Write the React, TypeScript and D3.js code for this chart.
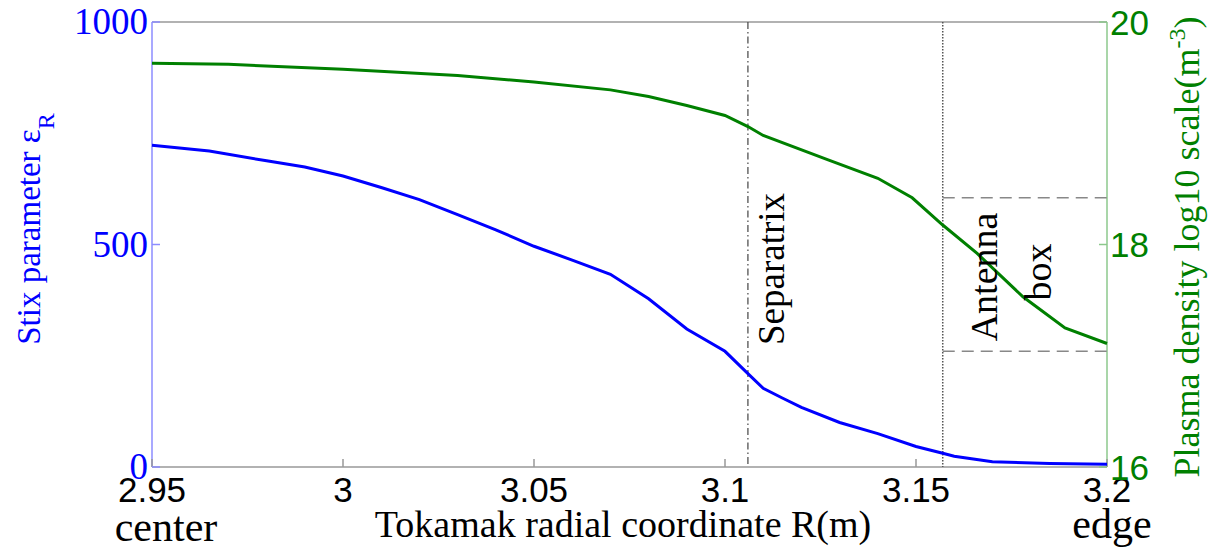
import React from "react";
import * as d3 from "d3";

// ---- data ----
const rBlue = [2.95, 2.965, 2.98, 2.99, 3.0, 3.01, 3.02, 3.03, 3.04, 3.05, 3.06, 3.07, 3.08, 3.09, 3.1, 3.106, 3.11, 3.115, 3.12, 3.13, 3.14, 3.15, 3.157, 3.16, 3.17, 3.185, 3.2];
const stixR = [723, 710, 688, 674, 654, 628, 601, 567, 533, 496, 465, 433, 378, 310, 260, 210, 177, 155, 134, 100, 75, 46, 31, 24, 12, 8, 6];

const rGreen = [2.95, 2.97, 3.0, 3.03, 3.05, 3.07, 3.08, 3.09, 3.1, 3.106, 3.11, 3.127, 3.14, 3.149, 3.157, 3.166, 3.178, 3.189, 3.2];
const logDensity = [19.63, 19.62, 19.575, 19.52, 19.46, 19.39, 19.33, 19.25, 19.16, 19.06, 18.98, 18.76, 18.595, 18.42, 18.175, 17.92, 17.53, 17.25, 17.11];

const xTicks = [2.95, 3.0, 3.05, 3.1, 3.15, 3.2];
const xTickLabels = ["2.95", "3", "3.05", "3.1", "3.15", "3.2"];
const leftTicks = [0, 500, 1000];
const rightTicks = [16, 18, 20];

const separatrixR = 3.106;
const antennaR = 3.157;
const antennaBox = [17.04, 18.42];

const SERIF = "'Liberation Serif', 'Times New Roman', serif";
const SANS = "'Liberation Sans', Arial, sans-serif";

export default function App() {
  const W = 1214, H = 550;
  const m = { left: 152, right: 1107, top: 22, bottom: 467 };
  const x = d3.scaleLinear().domain([2.95, 3.2]).range([m.left, m.right]);
  const yL = d3.scaleLinear().domain([0, 1000]).range([m.bottom, m.top]);
  const yR = d3.scaleLinear().domain([16, 20]).range([m.bottom, m.top]);

  const blueLine = d3.line<number>().x((_, i) => x(rBlue[i])).y((d) => yL(d))(stixR) || "";
  const greenLine = d3.line<number>().x((_, i) => x(rGreen[i])).y((d) => yR(d))(logDensity) || "";

  const xs = x(separatrixR);
  const xa = x(antennaR);

  return (
    <svg width={W} height={H} style={{ position: "absolute", left: 0, top: 0, background: "#fff" }}>
      {/* frame */}
      <line x1={m.left} x2={m.right} y1={m.top} y2={m.top} stroke="#999" strokeWidth={1.5} />
      <line x1={m.left} x2={m.right} y1={m.bottom} y2={m.bottom} stroke="#999" strokeWidth={1.5} />
      <line x1={m.left} x2={m.left} y1={m.top} y2={m.bottom} stroke="#8c8cff" strokeWidth={1.5} />
      <line x1={m.right} x2={m.right} y1={m.top} y2={m.bottom} stroke="#8cc88c" strokeWidth={1.5} />

      {/* x ticks */}
      {xTicks.map((t, i) => (
        <g key={"xt" + i}>
          <line x1={x(t)} x2={x(t)} y1={m.bottom} y2={m.bottom - 8} stroke="#999" strokeWidth={1.5} />
          <text x={x(t)} y={502} textAnchor="middle" fontFamily={SANS} fontSize={35} fill="#000">
            {xTickLabels[i]}
          </text>
        </g>
      ))}
      {/* left ticks */}
      {leftTicks.map((t) => (
        <g key={"lt" + t}>
          <line x1={m.left} x2={m.left + 8} y1={yL(t)} y2={yL(t)} stroke="#8c8cff" strokeWidth={1.5} />
          <text x={148} y={yL(t) + 12} textAnchor="end" fontFamily={SERIF} fontSize={37} fill="#0000ff">
            {t}
          </text>
        </g>
      ))}
      {/* right ticks */}
      {rightTicks.map((t) => (
        <g key={"rt" + t}>
          <line x1={m.right} x2={m.right - 8} y1={yR(t)} y2={yR(t)} stroke="#8cc88c" strokeWidth={1.5} />
          <text x={1110} y={yR(t) + 12.5} textAnchor="start" fontFamily={SANS} fontSize={35} fill="#008000">
            {t}
          </text>
        </g>
      ))}

      {/* separatrix & antenna */}
      <line x1={xs} x2={xs} y1={m.top} y2={m.bottom} stroke="#444" strokeWidth={1.2} strokeDasharray="7,3,1.5,3" />
      <line x1={xa} x2={xa} y1={m.top} y2={m.bottom} stroke="#555" strokeWidth={1.5} strokeDasharray="1.5,1.5" />
      {antennaBox.map((v, i) => (
        <line key={"ab" + i} x1={xa} x2={m.right} y1={yR(v)} y2={yR(v)} stroke="#888" strokeWidth={1.5} strokeDasharray="12,7" />
      ))}

      {/* curves */}
      <path d={greenLine} fill="none" stroke="#008000" strokeWidth={3} />
      <path d={blueLine} fill="none" stroke="#0000ff" strokeWidth={3} />

      {/* annotations */}
      <text transform={`translate(784,269) rotate(-90)`} textAnchor="middle" fontFamily={SERIF} fontSize={37} fill="#000">Separatrix</text>
      <text transform={`translate(997,277) rotate(-90)`} textAnchor="middle" fontFamily={SERIF} fontSize={38} fill="#000">Antenna</text>
      <text transform={`translate(1051,272) rotate(-90)`} textAnchor="middle" fontFamily={SERIF} fontSize={38} fill="#000">box</text>

      {/* axis titles */}
      <text x={623} y={537} textAnchor="middle" fontFamily={SERIF} fontSize={38} fill="#000">Tokamak radial coordinate R(m)</text>
      <text x={166} y={541} textAnchor="middle" fontFamily={SERIF} fontSize={42} fill="#000">center</text>
      <text x={1112} y={538} textAnchor="middle" fontFamily={SERIF} fontSize={42} fill="#000">edge</text>

      <text transform={`translate(40,229) rotate(-90)`} textAnchor="middle" fontFamily={SERIF} fontSize={33} fill="#0000ff">
        Stix parameter ε<tspan fontSize={24} dy={14}>R</tspan>
      </text>
      <text transform={`translate(1199,247) rotate(-90)`} textAnchor="middle" fontFamily={SERIF} fontSize={36} fill="#008000">
        Plasma density log10 scale(m<tspan fontSize={24} dy={-14}>-3</tspan><tspan dy={14}>)</tspan>
      </text>
    </svg>
  );
}
